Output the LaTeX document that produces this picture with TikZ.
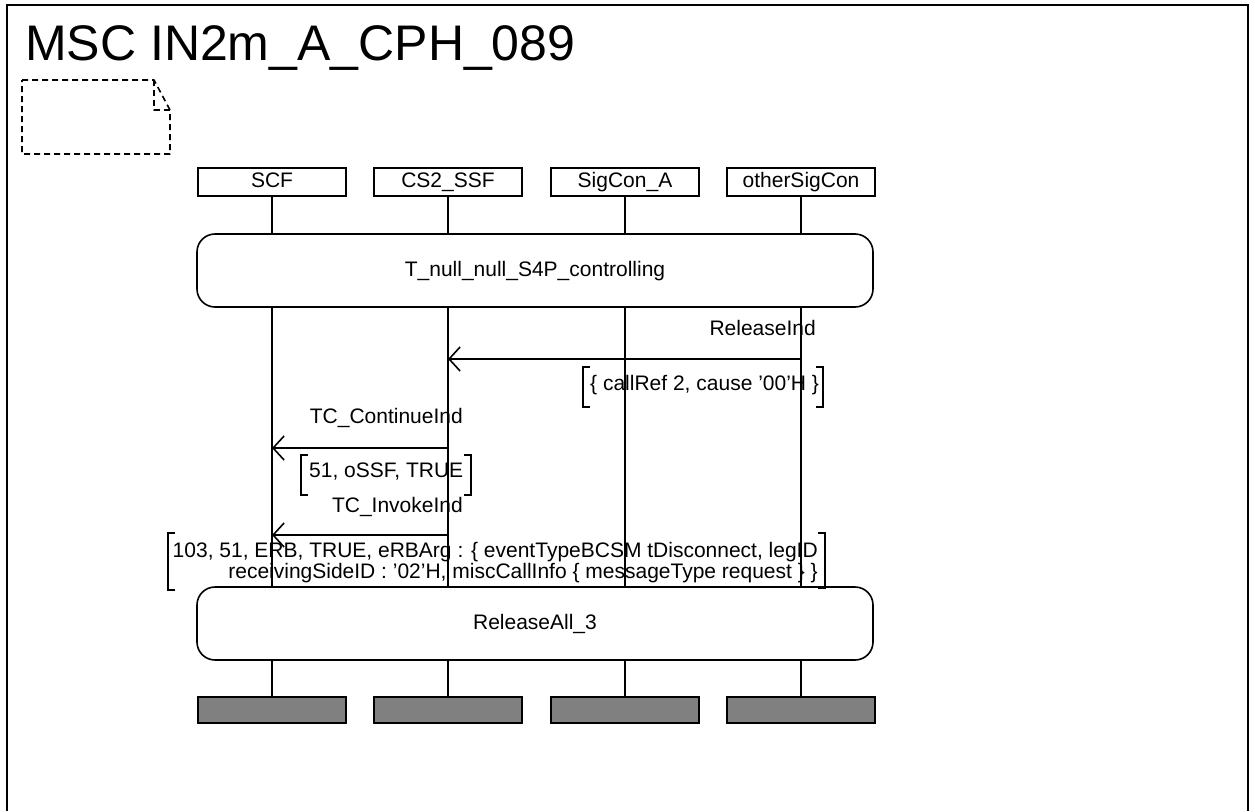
\documentclass[tikz,border=0pt]{standalone}
\usepackage{fontspec}
\setmainfont{Liberation Sans}
\usetikzlibrary{arrows.meta}
\definecolor{endgray}{HTML}{808080}
\begin{document}
\begin{tikzpicture}[x=1pt,y=-1pt,
  every node/.style={font=\fontsize{21}{21}\selectfont, inner sep=0pt},
  inst/.style={draw, line width=1.6pt, minimum width=148pt, minimum height=28pt, text height=15pt, text depth=4pt},
  endbox/.style={draw, fill=endgray, line width=1.6pt, minimum width=148pt, minimum height=26pt},
  cond/.style={draw, fill=white, rounded corners=18pt, line width=1.6pt, minimum width=676pt, minimum height=73pt, text height=15pt, text depth=4pt},
  life/.style={line width=1.6pt},
  msg/.style={line width=1.6pt, -{Straight Barb[length=11pt,width=24pt]}},
  brk/.style={line width=1.6pt},
  notebox/.style={line width=1.6pt, dash pattern=on 6pt off 4pt, line join=round},
  ]
\useasboundingbox (0,0) rectangle (1255,811);
% frame
\draw[line width=1.8pt] (7,811) -- (7,5) -- (1248,5) -- (1248,811);
\node[anchor=base west, font=\fontsize{50}{50}\selectfont] (title) at (25,60) {MSC IN2m\_A\_CPH\_089};
% comment note
\draw[notebox] (22,80) -- (154,80) -- (170,110) -- (170,154) -- (22,154) -- cycle;
\draw[notebox] (154,80) -- (154,110) -- (170,110);
% instances
\node[inst] (scf) at (272,182) {SCF};
\node[inst] (ssf) at (448,182) {CS2\_SSF};
\node[inst] (sca) at (625,182) {SigCon\_A};
\node[inst] (oth) at (801,182) {otherSigCon};
% conditions
\node[cond] (c1) at (535,270.5) {T\_null\_null\_S4P\_controlling};
\node[cond] (c2) at (535,623.5) {ReleaseAll\_3};
% end boxes
\node[endbox] (e1) at (272,710) {};
\node[endbox] (e2) at (448,710) {};
\node[endbox] (e3) at (625,710) {};
\node[endbox] (e4) at (801,710) {};
% lifelines
\foreach \a/\b in {scf/e1, ssf/e2, sca/e3, oth/e4}{
  \draw[life] (\a.south) -- (\a.south |- c1.north);
  \draw[life] (\a.south |- c1.south) -- (\a.south |- c2.north);
  \draw[life] (\a.south |- c2.south) -- (\b.north);
}
% message 1
\coordinate (m1s) at (801,359);
\coordinate (m1e) at (448,359);
\draw[msg] (m1s) -- (m1e);
\node[anchor=base east] (l1) at (816,335) {ReleaseInd};
\node[anchor=base west] (p1) at (590,390) {\{ callRef 2, cause ’00’H \}};
\draw[brk] (590,367) -- (583,367) -- (583,407) -- (590,407);
\draw[brk] (816,367) -- (823,367) -- (823,407) -- (816,407);
% message 2
\coordinate (m2s) at (448,448);
\coordinate (m2e) at (272,448);
\draw[msg] (m2s) -- (m2e);
\node[anchor=base east] (l2) at (463,423) {TC\_ContinueInd};
\node[anchor=base west] (p2) at (309,477) {51, oSSF, TRUE};
\draw[brk] (308,455) -- (301,455) -- (301,495) -- (308,495);
\draw[brk] (464,455) -- (471,455) -- (471,495) -- (464,495);
% message 3
\coordinate (m3s) at (448,535);
\coordinate (m3e) at (272,535);
\draw[msg] (m3s) -- (m3e);
\node[anchor=base east] (l3) at (463,512) {TC\_InvokeInd};
\node[anchor=base east] (p3a) at (818,557) {103, 51, ERB, TRUE, eRBArg : \{ eventTypeBCSM tDisconnect, legID};
\node[anchor=base east] (p3b) at (818,578) {receivingSideID : ’02’H, miscCallInfo \{ messageType request \} \}};
\draw[brk] (175,533) -- (168,533) -- (168,590) -- (175,590);
\draw[brk] (818,533) -- (825,533) -- (825,588) -- (818,588);
\end{tikzpicture}
\end{document}
